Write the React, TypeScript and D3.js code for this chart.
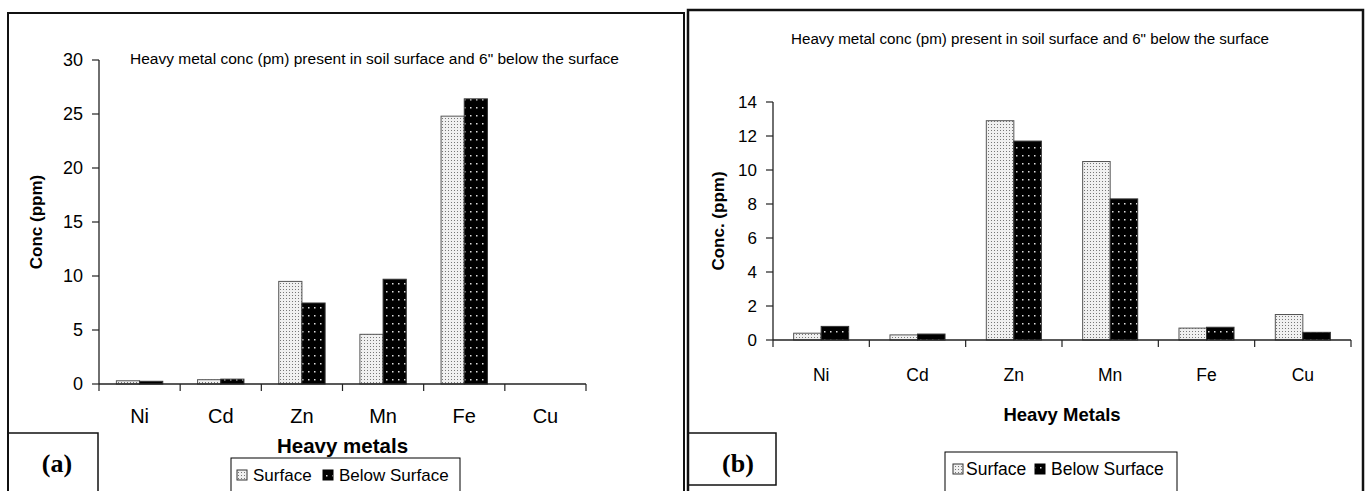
import React from "react";
import * as d3 from "d3";

const categories = ["Ni", "Cd", "Zn", "Mn", "Fe", "Cu"];
const surfaceA = [0.3, 0.4, 9.5, 4.6, 24.8, 0];
const belowA = [0.25, 0.45, 7.5, 9.7, 26.4, 0];
const ticksA = [0, 5, 10, 15, 20, 25, 30];
const surfaceB = [0.4, 0.3, 12.9, 10.5, 0.7, 1.5];
const belowB = [0.8, 0.35, 11.7, 8.3, 0.75, 0.45];
const ticksB = [0, 2, 4, 6, 8, 10, 12, 14];
const seriesNames = ["Surface", "Below Surface"];
const titleText = "Heavy metal conc (pm) present in soil surface and 6\" below  the surface";

const FONT = "'Liberation Sans', Arial, sans-serif";
const SERIF = "'Liberation Serif', 'DejaVu Serif', serif";

type PanelCfg = {
  x0: number; x1: number; y0: number; y1: number; yMax: number; ticks: number[];
  surface: number[]; below: number[];
  tickFont: number; catFont: number; catY: number;
  yLabel: string; yLabelX: number; yLabelFont: number;
  xLabel: string; xLabelY: number; xLabelFont: number;
  title: { x: number; y: number; len: number; size: number };
};

function Panel({ c }: { c: PanelCfg }) {
  const x = d3.scaleBand().domain(categories).range([c.x0, c.x1]).paddingInner(0).paddingOuter(0);
  const y = d3.scaleLinear().domain([0, c.yMax]).range([c.y1, c.y0]);
  const bw = x.bandwidth() / 3.5;
  const inner = d3.scaleBand().domain(seriesNames).range([0, 2 * bw]);
  const boundaries = d3.range(categories.length + 1).map((i) => c.x0 + i * x.bandwidth());
  return (
    <g>
      <text x={c.title.x} y={c.title.y} dy="0.36em" fontSize={c.title.size} textLength={c.title.len}
        lengthAdjust="spacingAndGlyphs" fontFamily={FONT} fill="#000">
        {titleText}
      </text>
      {categories.map((cat, i) => {
        const gx = (x(cat) as number) + bw * 0.75;
        return (
          <g key={cat}>
            {c.surface[i] > 0 && (
              <rect x={gx + (inner("Surface") as number)} y={y(c.surface[i])} width={bw} height={c.y1 - y(c.surface[i])}
                fill="url(#patSurface)" stroke="#555" strokeWidth={1} />
            )}
            {c.below[i] > 0 && (
              <rect x={gx + (inner("Below Surface") as number)} y={y(c.below[i])} width={bw} height={c.y1 - y(c.below[i])}
                fill="url(#patBelow)" stroke="#333" strokeWidth={1} />
            )}
          </g>
        );
      })}
      <line x1={c.x0} x2={c.x0} y1={c.y0} y2={c.y1} stroke="#222" strokeWidth={1.3} />
      <line x1={c.x0} x2={c.x1} y1={c.y1} y2={c.y1} stroke="#222" strokeWidth={1.3} />
      {c.ticks.map((t) => (
        <g key={t}>
          <line x1={c.x0 - 7} x2={c.x0} y1={y(t)} y2={y(t)} stroke="#222" strokeWidth={1.2} />
          <text x={c.x0 - 16} y={y(t)} dy="0.36em" textAnchor="end" fontSize={c.tickFont} fontFamily={FONT}>{t}</text>
        </g>
      ))}
      {boundaries.map((bx, i) => (
        <line key={i} x1={bx} x2={bx} y1={c.y1} y2={c.y1 + 7} stroke="#222" strokeWidth={1.2} />
      ))}
      {categories.map((cat) => (
        <text key={cat} x={(x(cat) as number) + x.bandwidth() / 2} y={c.catY} dy="0.36em" textAnchor="middle" fontSize={c.catFont} fontFamily={FONT}>{cat}</text>
      ))}
      <text transform={`translate(${c.yLabelX},${(c.y0 + c.y1) / 2}) rotate(-90)`} textAnchor="middle" dy="0.36em"
        fontSize={c.yLabelFont} fontWeight="bold" fontFamily={FONT}>{c.yLabel}</text>
      <text x={(c.x0 + c.x1) / 2} y={c.xLabelY} dy="0.36em" textAnchor="middle" fontSize={c.xLabelFont} fontWeight="bold" fontFamily={FONT}>{c.xLabel}</text>
    </g>
  );
}

function Legend({ x0, y0, w, h, size, s1, t1, s2, t2 }: { x0: number; y0: number; w: number; h: number; size: number; s1: number; t1: number; s2: number; t2: number }) {
  const cy = y0 + 17;
  return (
    <g>
      <rect x={x0} y={y0} width={w} height={h} fill="#fff" stroke="#000" strokeWidth={1} />
      <rect x={x0 + s1} y={cy - 5} width={10} height={10} fill="url(#patSurface)" stroke="#333" strokeWidth={1} />
      <text x={x0 + t1} y={cy} dy="0.36em" fontSize={size} fontFamily={FONT}>{seriesNames[0]}</text>
      <rect x={x0 + s2} y={cy - 5} width={10} height={10} fill="url(#patBelow)" stroke="#000" strokeWidth={1} />
      <text x={x0 + t2} y={cy} dy="0.36em" fontSize={size} fontFamily={FONT}>{seriesNames[1]}</text>
    </g>
  );
}

export default function App() {
  const W = 1369, H = 491;
  const panelA: PanelCfg = {
    x0: 99, x1: 586, y0: 60, y1: 384, yMax: 30, ticks: ticksA,
    surface: surfaceA, below: belowA, tickFont: 18, catFont: 20, catY: 416,
    yLabel: "Conc (ppm)", yLabelX: 36, yLabelFont: 17,
    xLabel: "Heavy metals", xLabelY: 446, xLabelFont: 20.5,
    title: { x: 130, y: 59, len: 489, size: 14 },
  };
  const panelB: PanelCfg = {
    x0: 773, x1: 1351, y0: 102, y1: 340, yMax: 14, ticks: ticksB,
    surface: surfaceB, below: belowB, tickFont: 17, catFont: 17.5, catY: 375,
    yLabel: "Conc. (ppm)", yLabelX: 718, yLabelFont: 17,
    xLabel: "Heavy Metals", xLabelY: 414, xLabelFont: 18.5,
    title: { x: 791, y: 39, len: 478, size: 14 },
  };
  return (
    <svg width={W} height={H} style={{ display: "block", position: "absolute", left: 0, top: 0 }}>
      <defs>
        <pattern id="patSurface" width={3} height={3} patternUnits="userSpaceOnUse">
          <rect width={3} height={3} fill="#f0f0f0" />
          <rect x={1} y={1} width={1} height={1} fill="#777" />
        </pattern>
        <pattern id="patBelow" width={6} height={8} patternUnits="userSpaceOnUse">
          <rect width={6} height={8} fill="#000" />
          <rect x={2} y={3} width={1.5} height={1.5} fill="#ddd" />
        </pattern>
      </defs>
      <rect width={W} height={H} fill="#fff" />
      <rect x={8} y={13} width={676} height={490} fill="none" stroke="#111" strokeWidth={2} />
      <rect x={688} y={10} width={675} height={490} fill="none" stroke="#111" strokeWidth={2.5} />
      <Panel c={panelA} />
      <Panel c={panelB} />
      <rect x={8} y={433} width={90} height={70} fill="none" stroke="#111" strokeWidth={1.5} />
      <text x={57} y={463} dy="0.36em" textAnchor="middle" fontSize={26} fontWeight="bold" fontFamily={SERIF}>(a)</text>
      <rect x={688} y={433} width={88} height={52} fill="none" stroke="#111" strokeWidth={1.5} />
      <text x={738} y={463} dy="0.36em" textAnchor="middle" fontSize={26} fontWeight="bold" fontFamily={SERIF}>(b)</text>
      <Legend x0={231} y0={458} w={229} h={40} size={17} s1={6} t1={22} s2={92} t2={108} />
      <Legend x0={945} y0={452} w={232} h={41} size={17.5} s1={8} t1={21} s2={90} t2={106} />
    </svg>
  );
}
